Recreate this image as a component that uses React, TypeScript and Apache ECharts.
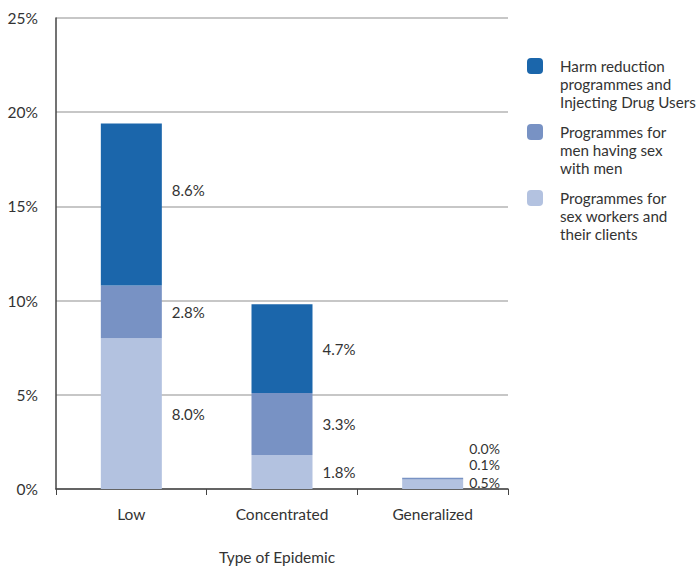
import React, { useEffect, useRef } from "react";
import * as echarts from "echarts";

const categories = ["Low", "Concentrated", "Generalized"];
const sexWorkers = [8.0, 1.8, 0.5];
const msm = [2.8, 3.3, 0.1];
const harmReduction = [8.6, 4.7, 0.0];
const yTicks = [0, 5, 10, 15, 20, 25];

const seriesNames = [
  "Programmes for sex workers and their clients",
  "Programmes for men having sex with men",
  "Harm reduction programmes and Injecting Drug Users",
];
const legendLabels: Record<string, string> = {
  "Harm reduction programmes and Injecting Drug Users":
    "Harm reduction\nprogrammes and\nInjecting Drug Users",
  "Programmes for men having sex with men": "Programmes for\nmen having sex\nwith men",
  "Programmes for sex workers and their clients":
    "Programmes for\nsex workers and\ntheir clients",
};

// label offsets (layout only)
const labelOffsets: number[][][] = [
  [[0, 0], [0, 0], [-4, -2]],
  [[0, 0], [0, 0], [-4, -14.5]],
  [[0, -15], [0, 0], [-4, -29.5]],
];
const labelSizes: number[] = [15, 15, 14];

const colors = ["#b3c2e0", "#7892c4", "#1b66ab"];
const FONT = "Lato";
const TEXT = "#333333";

export default function App() {
  const ref = useRef<HTMLDivElement>(null);
  useEffect(() => {
    if (!ref.current) return;
    const chart = echarts.init(ref.current, null, { renderer: "svg" });
    const values = [sexWorkers, msm, harmReduction];
    chart.setOption({
      animation: false,
      textStyle: { fontFamily: FONT, color: TEXT },
      grid: { left: 56, right: 191, top: 18, bottom: 76, containLabel: false },
      legend: {
        orient: "vertical",
        left: 522,
        top: 16,
        itemWidth: 16,
        itemHeight: 16,
        itemGap: -24,
        data: [seriesNames[2], seriesNames[1], seriesNames[0]],
        formatter: (n: string) => "\n\n" + legendLabels[n],
        selectedMode: false,
        textStyle: {
          fontFamily: FONT,
          fontSize: 15.2,
          color: TEXT,
          lineHeight: 18,
          padding: [0, 0, 0, 12],
        },
      },
      xAxis: {
        type: "category",
        data: categories,
        name: "Type of Epidemic",
        nameLocation: "middle",
        nameGap: 60,
        nameTextStyle: { fontFamily: FONT, fontSize: 15.5, color: TEXT, padding: [0, 10, 0, 0] },
        axisLine: { lineStyle: { color: "#444", width: 1.5 } },
        axisTick: { show: true, length: 6, lineStyle: { color: "#444" } },
        axisLabel: { fontFamily: FONT, fontSize: 15.5, color: TEXT, margin: 17 },
      },
      yAxis: {
        type: "value",
        min: 0,
        max: 25,
        interval: 5,
        axisLine: { show: true, lineStyle: { color: "#444", width: 1.5 } },
        axisTick: { show: false },
        axisLabel: {
          fontFamily: FONT,
          fontSize: 15.5,
          color: TEXT,
          margin: 18,
          formatter: (v: number) => (yTicks.includes(v) ? `${v}%` : ""),
        },
        splitLine: { lineStyle: { color: "#b5b5b5", width: 1.5 } },
      },
      series: values.map((arr, si) => ({
        name: seriesNames[si],
        type: "bar",
        stack: "total",
        barWidth: 61,
        itemStyle: { color: colors[si] },
        label: {
          show: true,
          position: "right",
          distance: 10,
          fontFamily: FONT,
          fontSize: 15,
          color: TEXT,
          formatter: (p: any) => `${Number(p.value).toFixed(1)}%`,
        },
        data: arr.map((v, ci) => ({
          value: v,
          label: { offset: labelOffsets[si][ci], fontSize: labelSizes[ci] },
        })),
      })),
    });
    return () => chart.dispose();
  }, []);
  return (
    <div
      ref={ref}
      style={{ width: 699, height: 570, position: "absolute", left: 0, top: 0 }}
    />
  );
}
